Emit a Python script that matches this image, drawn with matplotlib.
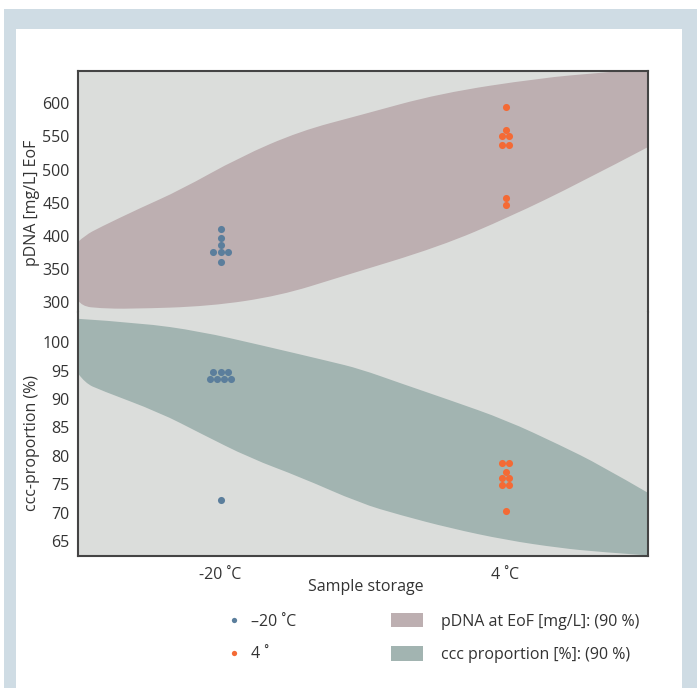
import matplotlib
matplotlib.use("Agg")
import matplotlib.pyplot as plt
from matplotlib.patches import Rectangle, Patch, PathPatch
from matplotlib.lines import Line2D
from matplotlib.path import Path
import numpy as np

plt.rcParams["font.family"] = ["Open Sans", "DejaVu Sans"]

# data
categories = ["-20 ˚C", "4 ˚C"]
pdna_m20 = [410, 397, 387, 376, 376, 376, 361]
pdna_4 = [595, 560, 550, 550, 537, 537, 457, 447]
ccc_m20 = [94.8, 94.8, 94.8, 93.5, 93.5, 93.5, 93.5, 72.2]
ccc_4 = [78.7, 78.7, 77.2, 76.1, 76.1, 74.8, 74.8, 70.3]

# 90 % bands (x in category units)
pdna_top_x = [-0.5, -0.475, -0.423, -0.282, -0.142, 0.068, 0.279, 0.489, 0.770, 1.121, 1.332, 1.5]
pdna_top_y = [391, 401, 413, 442, 469, 519, 558, 582, 615, 638, 646, 652]
pdna_bot_x = [-0.5, -0.486, -0.423, -0.318, -0.037, 0.209, 0.419, 0.770, 1.016, 1.261, 1.5]
pdna_bot_y = [303, 294, 291, 290, 294, 310, 338, 384, 429, 480, 534]
ccc_top_x = [-0.5, -0.282, -0.072, 0.139, 0.384, 0.489, 0.630, 0.805, 1.002, 1.191, 1.332, 1.5]
ccc_top_y = [104.1, 103.4, 101.9, 99.5, 96.6, 95.3, 92.8, 89.8, 86.3, 81.9, 78.4, 73.5]
ccc_bot_x = [-0.5, -0.475, -0.423, -0.212, -0.072, 0.104, 0.279, 0.489, 0.630, 0.805, 1.002, 1.191, 1.332, 1.5]
ccc_bot_y = [94.5, 92.8, 91.6, 87.6, 84.0, 79.6, 76.3, 71.7, 69.6, 67.3, 65.2, 63.8, 63.1, 62.5]

blue = "#5b7e9c"
orange = "#f46a35"
mauve = "#bdafb1"
teal = "#a2b4b1"
bg = "#dbdddb"
txt = "#333333"


def swarm_x(center, values, step=0.0246):
    # spread equal values side by side
    vals = np.array(values)
    out = np.zeros(len(values))
    for v in set(values):
        idx = np.where(vals == v)[0]
        n = len(idx)
        out[idx] = center + (np.arange(n) - (n - 1) / 2) * step
    return out


def edge_segments(x, y):
    # quadratic bezier pieces through midpoints, ends on the last point
    pts = np.column_stack([x, y])
    verts, codes = [], []
    for i in range(1, len(pts) - 1):
        end = (pts[i] + pts[i + 1]) / 2 if i < len(pts) - 2 else pts[-1]
        verts += [pts[i], end]
        codes += [Path.CURVE3, Path.CURVE3]
    return verts, codes


def band_patch(tx, ty, bx, by, color):
    v1, c1 = edge_segments(tx, ty)
    v2, c2 = edge_segments(bx[::-1], by[::-1])
    verts = [(tx[0], ty[0])] + v1 + [(bx[-1], by[-1])] + v2 + [(tx[0], ty[0])]
    codes = [Path.MOVETO] + c1 + [Path.LINETO] + c2 + [Path.CLOSEPOLY]
    return PathPatch(Path(verts, codes), facecolor=color, edgecolor="none", zorder=1)


fig = plt.figure(figsize=(6.97, 6.88), dpi=100)
fig.patch.set_facecolor("white")
W, H = 697, 688
fig.patches.append(Rectangle((4 / W, 0), 1 - 4 / W, 1 - 9 / H, transform=fig.transFigure,
                             facecolor="#cfdce4", edgecolor="none", zorder=-10))
fig.patches.append(Rectangle((16 / W, 0), (682 - 16) / W, 1 - 29 / H, transform=fig.transFigure,
                             facecolor="white", edgecolor="none", zorder=-9))

left, width = 78 / W, 570 / W
ax1 = fig.add_axes([left, 1 - 312 / H, width, (312 - 71) / H])
ax2 = fig.add_axes([left, 1 - 556 / H, width, (556 - 312) / H], sharex=ax1)

for ax in (ax1, ax2):
    ax.set_facecolor(bg)
    ax.set_xlim(-0.5, 1.5)
    ax.tick_params(length=0, labelsize=11.5, labelcolor=txt, pad=6)
    for s in ax.spines.values():
        s.set_color("#444444")
        s.set_linewidth(1.5)

ax1.spines["bottom"].set_visible(False)
ax2.spines["top"].set_visible(False)

ax1.set_ylim(285.4, 648.7)
ax2.set_ylim(62.4, 105.3)
ax1.set_yticks([300, 350, 400, 450, 500, 550, 600])
ax2.set_yticks([65, 70, 75, 80, 85, 90, 95, 100])

ax1.add_patch(band_patch(pdna_top_x, pdna_top_y, pdna_bot_x, pdna_bot_y, mauve))
ax2.add_patch(band_patch(ccc_top_x, ccc_top_y, ccc_bot_x, ccc_bot_y, teal))

ax1.scatter(swarm_x(0, pdna_m20), pdna_m20, s=26, color=blue, lw=0, zorder=3)
ax1.scatter(swarm_x(1, pdna_4), pdna_4, s=26, color=orange, lw=0, zorder=3)
ax2.scatter(swarm_x(0, ccc_m20), ccc_m20, s=26, color=blue, lw=0, zorder=3)
ax2.scatter(swarm_x(1, ccc_4), ccc_4, s=26, color=orange, lw=0, zorder=3)

ax1.tick_params(axis="x", labelbottom=False)
ax2.set_xticks([0, 1])
ax2.set_xticklabels(categories)
ax2.tick_params(axis="x", pad=8)

ax1.set_ylabel("pDNA [mg/L] EoF", fontsize=11.5, color=txt)
ax2.set_ylabel("ccc-proportion (%)", fontsize=11.5, color=txt)
ax1.yaxis.set_label_coords(-0.067, 0.452)
ax2.yaxis.set_label_coords(-0.067, 0.463)
ax2.set_xlabel("Sample storage", fontsize=11.5, color=txt)
ax2.xaxis.set_label_coords(0.505, -0.095)

h1 = [Line2D([], [], ls="none", marker="o", ms=3.8, color=blue, mec="none"),
      Line2D([], [], ls="none", marker="o", ms=3.8, color=orange, mec="none")]
fig.legend(h1, ["–20 ˚C", "4 ˚"], loc="center left", bbox_to_anchor=(226.4 / W, 1 - 638 / H),
           frameon=False, fontsize=11.5, handlelength=1.0, handletextpad=0.52,
           borderpad=0, borderaxespad=0, labelspacing=1.05, labelcolor=txt)
h2 = [Patch(facecolor=mauve, edgecolor="none"), Patch(facecolor=teal, edgecolor="none")]
fig.legend(h2, ["pDNA at EoF [mg/L]: (90 %)", "ccc proportion [%]: (90 %)"], loc="center left",
           bbox_to_anchor=(391 / W, 1 - 638 / H), frameon=False, fontsize=11.5,
           handlelength=2.0, handleheight=1.0, handletextpad=1.13,
           borderpad=0, borderaxespad=0, labelspacing=1.05, labelcolor=txt)

fig.savefig("out.png", dpi=100, facecolor="white")
